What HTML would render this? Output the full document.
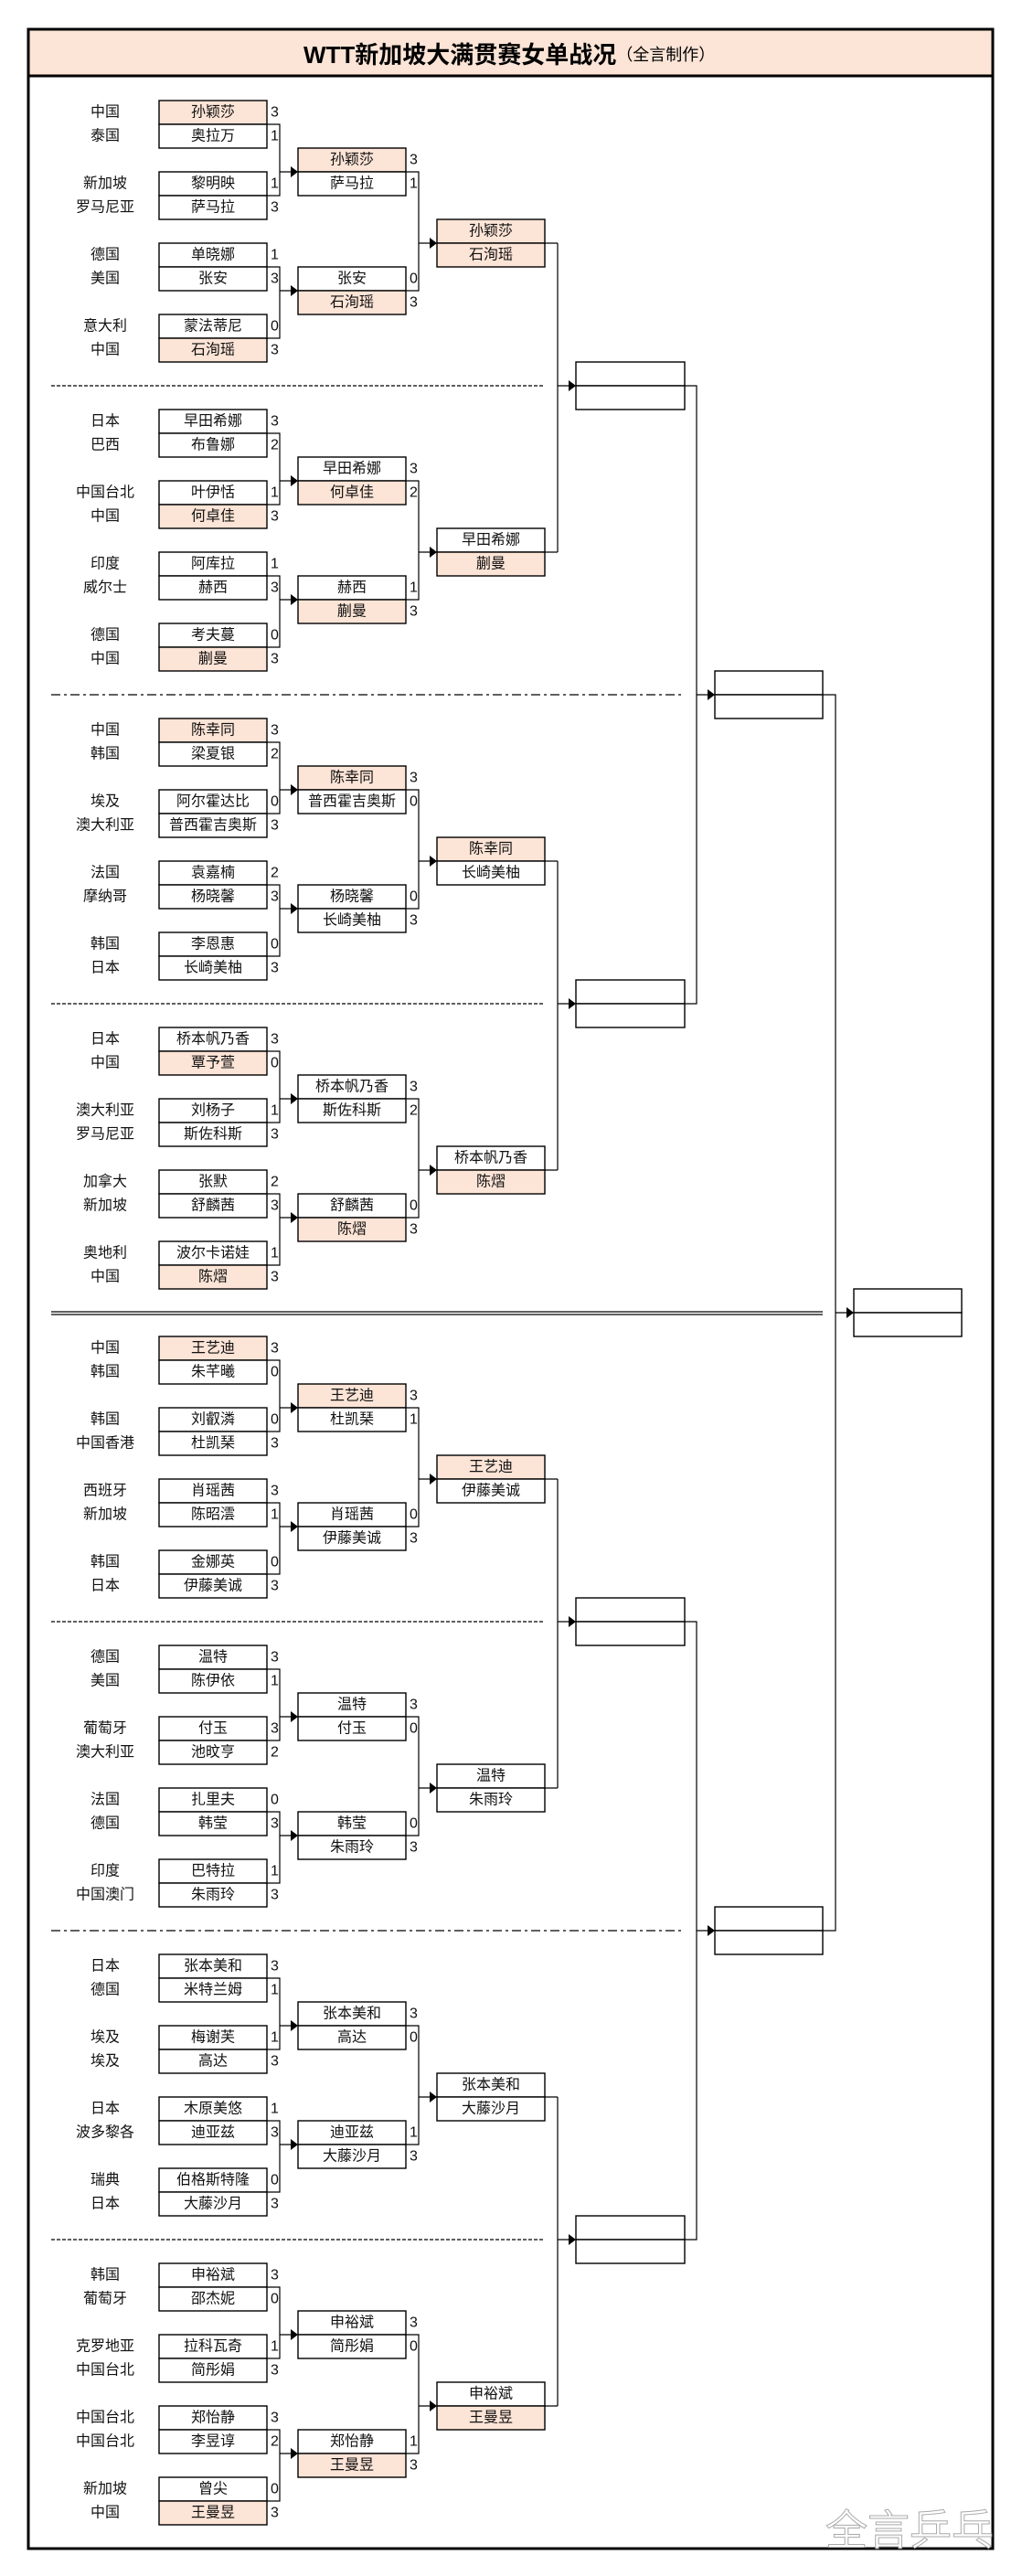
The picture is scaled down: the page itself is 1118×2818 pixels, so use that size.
<!DOCTYPE html>
<html><head><meta charset="utf-8">
<style>
html,body{margin:0;padding:0;background:#fff;}
svg{display:block;}
text{font-family:"Liberation Sans","Noto Sans CJK SC",sans-serif;}
.c{font-size:16px;fill:#111;text-anchor:middle;dominant-baseline:central;}
.n{font-size:16px;fill:#111;text-anchor:middle;dominant-baseline:central;}
.s{font-size:16px;fill:#111;dominant-baseline:central;}
.b{fill:#fff;stroke:#000;stroke-width:1.4;}
.h{fill:#fce4d6;stroke:#000;stroke-width:1.4;}
.l{stroke:#000;stroke-width:1.2;fill:none;}
</style></head><body>
<svg width="1118" height="2818" viewBox="0 0 1118 2818" xmlns="http://www.w3.org/2000/svg">
<defs>
<g id="conn">
<path class="l" d="M292 26H306V104H292M306 78H320M292 182H306V260H292M306 208H320M444 78H458V208H444M458 156H472M596 156H610"/>
<polygon points="318,72 326,78 318,84"/>
<polygon points="318,202 326,208 318,214"/>
<polygon points="470,150 478,156 470,162"/>
</g>
</defs>
<rect x="31" y="32" width="1055" height="51" fill="#fce4d6"/>
<rect x="31" y="32" width="1055" height="2756" fill="none" stroke="#000" stroke-width="3"/>
<line x1="31" y1="83" x2="1086" y2="83" stroke="#000" stroke-width="3"/>
<text x="332" y="60" style="font-size:26px;font-weight:bold;dominant-baseline:central;fill:#000">WTT新加坡大满贯赛女单战况<tspan style="font-size:18px;font-weight:normal">（全言制作）</tspan></text>

<g stroke="#000" stroke-width="1.2" stroke-dasharray="4,2">
<line x1="56" y1="422" x2="596" y2="422"/>
<line x1="56" y1="1098" x2="596" y2="1098"/>
<line x1="56" y1="1774" x2="596" y2="1774"/>
<line x1="56" y1="2450" x2="596" y2="2450"/>
</g>
<g stroke="#000" stroke-width="1.2" stroke-dasharray="10,4,3,4">
<line x1="56" y1="760" x2="749" y2="760"/>
<line x1="56" y1="2112" x2="749" y2="2112"/>
</g>
<line x1="56" y1="1435" x2="900" y2="1435" stroke="#000" stroke-width="1.3"/>
<line x1="56" y1="1438" x2="900" y2="1438" stroke="#000" stroke-width="1.3"/>

<path class="l" d="M610 266V604M610 422H624M610 942V1280M610 1098H624M610 1618V1956M610 1774H624M610 2294V2632M610 2450H624"/>
<polygon points="622,416 630,422 622,428"/><polygon points="622,1092 630,1098 622,1104"/>
<polygon points="622,1768 630,1774 622,1780"/><polygon points="622,2444 630,2450 622,2456"/>
<rect class="b" x="630" y="396" width="119" height="26"/><rect class="b" x="630" y="422" width="119" height="26"/>
<rect class="b" x="630" y="1072" width="119" height="26"/><rect class="b" x="630" y="1098" width="119" height="26"/>
<rect class="b" x="630" y="1748" width="119" height="26"/><rect class="b" x="630" y="1774" width="119" height="26"/>
<rect class="b" x="630" y="2424" width="119" height="26"/><rect class="b" x="630" y="2450" width="119" height="26"/>
<path class="l" d="M749 422H762V1098H749M762 760H776M749 1774H762V2450H749M762 2112H776"/>
<polygon points="774,754 782,760 774,766"/><polygon points="774,2106 782,2112 774,2118"/>
<rect class="b" x="782" y="734" width="118" height="26"/><rect class="b" x="782" y="760" width="118" height="26"/>
<rect class="b" x="782" y="2086" width="118" height="26"/><rect class="b" x="782" y="2112" width="118" height="26"/>
<path class="l" d="M900 760H914V2112H900M914 1436H928"/>
<polygon points="926,1430 934,1436 926,1442"/>
<rect class="b" x="934" y="1410" width="118" height="26"/><rect class="b" x="934" y="1436" width="118" height="26"/>

<g transform="translate(0,110)">
<use href="#conn"/>
<rect class="h" x="174" y="0" width="118" height="26"/><rect class="b" x="174" y="26" width="118" height="26"/>
<rect class="b" x="174" y="78" width="118" height="26"/><rect class="b" x="174" y="104" width="118" height="26"/>
<rect class="b" x="174" y="156" width="118" height="26"/><rect class="b" x="174" y="182" width="118" height="26"/>
<rect class="b" x="174" y="234" width="118" height="26"/><rect class="h" x="174" y="260" width="118" height="26"/>
<rect class="h" x="326" y="52" width="118" height="26"/><rect class="b" x="326" y="78" width="118" height="26"/>
<rect class="b" x="326" y="182" width="118" height="26"/><rect class="h" x="326" y="208" width="118" height="26"/>
<rect class="h" x="478" y="130" width="118" height="26"/><rect class="h" x="478" y="156" width="118" height="26"/>
<text class="c" x="115" y="13">中国</text><text class="c" x="115" y="39">泰国</text>
<text class="c" x="115" y="91">新加坡</text><text class="c" x="115" y="117">罗马尼亚</text>
<text class="c" x="115" y="169">德国</text><text class="c" x="115" y="195">美国</text>
<text class="c" x="115" y="247">意大利</text><text class="c" x="115" y="273">中国</text>
<text class="n" x="233" y="13">孙颖莎</text><text class="n" x="233" y="39">奥拉万</text>
<text class="n" x="233" y="91">黎明映</text><text class="n" x="233" y="117">萨马拉</text>
<text class="n" x="233" y="169">单晓娜</text><text class="n" x="233" y="195">张安</text>
<text class="n" x="233" y="247">蒙法蒂尼</text><text class="n" x="233" y="273">石洵瑶</text>
<text class="s" x="296" y="13">3</text><text class="s" x="296" y="39">1</text>
<text class="s" x="296" y="91">1</text><text class="s" x="296" y="117">3</text>
<text class="s" x="296" y="169">1</text><text class="s" x="296" y="195">3</text>
<text class="s" x="296" y="247">0</text><text class="s" x="296" y="273">3</text>
<text class="n" x="385" y="65">孙颖莎</text><text class="n" x="385" y="91">萨马拉</text>
<text class="n" x="385" y="195">张安</text><text class="n" x="385" y="221">石洵瑶</text>
<text class="s" x="448" y="65">3</text><text class="s" x="448" y="91">1</text>
<text class="s" x="448" y="195">0</text><text class="s" x="448" y="221">3</text>
<text class="n" x="537" y="143">孙颖莎</text><text class="n" x="537" y="169">石洵瑶</text>
</g>

<g transform="translate(0,448)">
<use href="#conn"/>
<rect class="b" x="174" y="0" width="118" height="26"/><rect class="b" x="174" y="26" width="118" height="26"/>
<rect class="b" x="174" y="78" width="118" height="26"/><rect class="h" x="174" y="104" width="118" height="26"/>
<rect class="b" x="174" y="156" width="118" height="26"/><rect class="b" x="174" y="182" width="118" height="26"/>
<rect class="b" x="174" y="234" width="118" height="26"/><rect class="h" x="174" y="260" width="118" height="26"/>
<rect class="b" x="326" y="52" width="118" height="26"/><rect class="h" x="326" y="78" width="118" height="26"/>
<rect class="b" x="326" y="182" width="118" height="26"/><rect class="h" x="326" y="208" width="118" height="26"/>
<rect class="b" x="478" y="130" width="118" height="26"/><rect class="h" x="478" y="156" width="118" height="26"/>
<text class="c" x="115" y="13">日本</text><text class="c" x="115" y="39">巴西</text>
<text class="c" x="115" y="91">中国台北</text><text class="c" x="115" y="117">中国</text>
<text class="c" x="115" y="169">印度</text><text class="c" x="115" y="195">威尔士</text>
<text class="c" x="115" y="247">德国</text><text class="c" x="115" y="273">中国</text>
<text class="n" x="233" y="13">早田希娜</text><text class="n" x="233" y="39">布鲁娜</text>
<text class="n" x="233" y="91">叶伊恬</text><text class="n" x="233" y="117">何卓佳</text>
<text class="n" x="233" y="169">阿库拉</text><text class="n" x="233" y="195">赫西</text>
<text class="n" x="233" y="247">考夫蔓</text><text class="n" x="233" y="273">蒯曼</text>
<text class="s" x="296" y="13">3</text><text class="s" x="296" y="39">2</text>
<text class="s" x="296" y="91">1</text><text class="s" x="296" y="117">3</text>
<text class="s" x="296" y="169">1</text><text class="s" x="296" y="195">3</text>
<text class="s" x="296" y="247">0</text><text class="s" x="296" y="273">3</text>
<text class="n" x="385" y="65">早田希娜</text><text class="n" x="385" y="91">何卓佳</text>
<text class="n" x="385" y="195">赫西</text><text class="n" x="385" y="221">蒯曼</text>
<text class="s" x="448" y="65">3</text><text class="s" x="448" y="91">2</text>
<text class="s" x="448" y="195">1</text><text class="s" x="448" y="221">3</text>
<text class="n" x="537" y="143">早田希娜</text><text class="n" x="537" y="169">蒯曼</text>
</g>

<g transform="translate(0,786)">
<use href="#conn"/>
<rect class="h" x="174" y="0" width="118" height="26"/><rect class="b" x="174" y="26" width="118" height="26"/>
<rect class="b" x="174" y="78" width="118" height="26"/><rect class="b" x="174" y="104" width="118" height="26"/>
<rect class="b" x="174" y="156" width="118" height="26"/><rect class="b" x="174" y="182" width="118" height="26"/>
<rect class="b" x="174" y="234" width="118" height="26"/><rect class="b" x="174" y="260" width="118" height="26"/>
<rect class="h" x="326" y="52" width="118" height="26"/><rect class="b" x="326" y="78" width="118" height="26"/>
<rect class="b" x="326" y="182" width="118" height="26"/><rect class="b" x="326" y="208" width="118" height="26"/>
<rect class="h" x="478" y="130" width="118" height="26"/><rect class="b" x="478" y="156" width="118" height="26"/>
<text class="c" x="115" y="13">中国</text><text class="c" x="115" y="39">韩国</text>
<text class="c" x="115" y="91">埃及</text><text class="c" x="115" y="117">澳大利亚</text>
<text class="c" x="115" y="169">法国</text><text class="c" x="115" y="195">摩纳哥</text>
<text class="c" x="115" y="247">韩国</text><text class="c" x="115" y="273">日本</text>
<text class="n" x="233" y="13">陈幸同</text><text class="n" x="233" y="39">梁夏银</text>
<text class="n" x="233" y="91">阿尔霍达比</text><text class="n" x="233" y="117">普西霍吉奥斯</text>
<text class="n" x="233" y="169">袁嘉楠</text><text class="n" x="233" y="195">杨晓馨</text>
<text class="n" x="233" y="247">李恩惠</text><text class="n" x="233" y="273">长崎美柚</text>
<text class="s" x="296" y="13">3</text><text class="s" x="296" y="39">2</text>
<text class="s" x="296" y="91">0</text><text class="s" x="296" y="117">3</text>
<text class="s" x="296" y="169">2</text><text class="s" x="296" y="195">3</text>
<text class="s" x="296" y="247">0</text><text class="s" x="296" y="273">3</text>
<text class="n" x="385" y="65">陈幸同</text><text class="n" x="385" y="91">普西霍吉奥斯</text>
<text class="n" x="385" y="195">杨晓馨</text><text class="n" x="385" y="221">长崎美柚</text>
<text class="s" x="448" y="65">3</text><text class="s" x="448" y="91">0</text>
<text class="s" x="448" y="195">0</text><text class="s" x="448" y="221">3</text>
<text class="n" x="537" y="143">陈幸同</text><text class="n" x="537" y="169">长崎美柚</text>
</g>

<g transform="translate(0,1124)">
<use href="#conn"/>
<rect class="b" x="174" y="0" width="118" height="26"/><rect class="h" x="174" y="26" width="118" height="26"/>
<rect class="b" x="174" y="78" width="118" height="26"/><rect class="b" x="174" y="104" width="118" height="26"/>
<rect class="b" x="174" y="156" width="118" height="26"/><rect class="b" x="174" y="182" width="118" height="26"/>
<rect class="b" x="174" y="234" width="118" height="26"/><rect class="h" x="174" y="260" width="118" height="26"/>
<rect class="b" x="326" y="52" width="118" height="26"/><rect class="b" x="326" y="78" width="118" height="26"/>
<rect class="b" x="326" y="182" width="118" height="26"/><rect class="h" x="326" y="208" width="118" height="26"/>
<rect class="b" x="478" y="130" width="118" height="26"/><rect class="h" x="478" y="156" width="118" height="26"/>
<text class="c" x="115" y="13">日本</text><text class="c" x="115" y="39">中国</text>
<text class="c" x="115" y="91">澳大利亚</text><text class="c" x="115" y="117">罗马尼亚</text>
<text class="c" x="115" y="169">加拿大</text><text class="c" x="115" y="195">新加坡</text>
<text class="c" x="115" y="247">奥地利</text><text class="c" x="115" y="273">中国</text>
<text class="n" x="233" y="13">桥本帆乃香</text><text class="n" x="233" y="39">覃予萱</text>
<text class="n" x="233" y="91">刘杨子</text><text class="n" x="233" y="117">斯佐科斯</text>
<text class="n" x="233" y="169">张默</text><text class="n" x="233" y="195">舒麟茜</text>
<text class="n" x="233" y="247">波尔卡诺娃</text><text class="n" x="233" y="273">陈熠</text>
<text class="s" x="296" y="13">3</text><text class="s" x="296" y="39">0</text>
<text class="s" x="296" y="91">1</text><text class="s" x="296" y="117">3</text>
<text class="s" x="296" y="169">2</text><text class="s" x="296" y="195">3</text>
<text class="s" x="296" y="247">1</text><text class="s" x="296" y="273">3</text>
<text class="n" x="385" y="65">桥本帆乃香</text><text class="n" x="385" y="91">斯佐科斯</text>
<text class="n" x="385" y="195">舒麟茜</text><text class="n" x="385" y="221">陈熠</text>
<text class="s" x="448" y="65">3</text><text class="s" x="448" y="91">2</text>
<text class="s" x="448" y="195">0</text><text class="s" x="448" y="221">3</text>
<text class="n" x="537" y="143">桥本帆乃香</text><text class="n" x="537" y="169">陈熠</text>
</g>

<g transform="translate(0,1462)">
<use href="#conn"/>
<rect class="h" x="174" y="0" width="118" height="26"/><rect class="b" x="174" y="26" width="118" height="26"/>
<rect class="b" x="174" y="78" width="118" height="26"/><rect class="b" x="174" y="104" width="118" height="26"/>
<rect class="b" x="174" y="156" width="118" height="26"/><rect class="b" x="174" y="182" width="118" height="26"/>
<rect class="b" x="174" y="234" width="118" height="26"/><rect class="b" x="174" y="260" width="118" height="26"/>
<rect class="h" x="326" y="52" width="118" height="26"/><rect class="b" x="326" y="78" width="118" height="26"/>
<rect class="b" x="326" y="182" width="118" height="26"/><rect class="b" x="326" y="208" width="118" height="26"/>
<rect class="h" x="478" y="130" width="118" height="26"/><rect class="b" x="478" y="156" width="118" height="26"/>
<text class="c" x="115" y="13">中国</text><text class="c" x="115" y="39">韩国</text>
<text class="c" x="115" y="91">韩国</text><text class="c" x="115" y="117">中国香港</text>
<text class="c" x="115" y="169">西班牙</text><text class="c" x="115" y="195">新加坡</text>
<text class="c" x="115" y="247">韩国</text><text class="c" x="115" y="273">日本</text>
<text class="n" x="233" y="13">王艺迪</text><text class="n" x="233" y="39">朱芊曦</text>
<text class="n" x="233" y="91">刘叡潾</text><text class="n" x="233" y="117">杜凯琹</text>
<text class="n" x="233" y="169">肖瑶茜</text><text class="n" x="233" y="195">陈昭澐</text>
<text class="n" x="233" y="247">金娜英</text><text class="n" x="233" y="273">伊藤美诚</text>
<text class="s" x="296" y="13">3</text><text class="s" x="296" y="39">0</text>
<text class="s" x="296" y="91">0</text><text class="s" x="296" y="117">3</text>
<text class="s" x="296" y="169">3</text><text class="s" x="296" y="195">1</text>
<text class="s" x="296" y="247">0</text><text class="s" x="296" y="273">3</text>
<text class="n" x="385" y="65">王艺迪</text><text class="n" x="385" y="91">杜凯琹</text>
<text class="n" x="385" y="195">肖瑶茜</text><text class="n" x="385" y="221">伊藤美诚</text>
<text class="s" x="448" y="65">3</text><text class="s" x="448" y="91">1</text>
<text class="s" x="448" y="195">0</text><text class="s" x="448" y="221">3</text>
<text class="n" x="537" y="143">王艺迪</text><text class="n" x="537" y="169">伊藤美诚</text>
</g>

<g transform="translate(0,1800)">
<use href="#conn"/>
<rect class="b" x="174" y="0" width="118" height="26"/><rect class="b" x="174" y="26" width="118" height="26"/>
<rect class="b" x="174" y="78" width="118" height="26"/><rect class="b" x="174" y="104" width="118" height="26"/>
<rect class="b" x="174" y="156" width="118" height="26"/><rect class="b" x="174" y="182" width="118" height="26"/>
<rect class="b" x="174" y="234" width="118" height="26"/><rect class="b" x="174" y="260" width="118" height="26"/>
<rect class="b" x="326" y="52" width="118" height="26"/><rect class="b" x="326" y="78" width="118" height="26"/>
<rect class="b" x="326" y="182" width="118" height="26"/><rect class="b" x="326" y="208" width="118" height="26"/>
<rect class="b" x="478" y="130" width="118" height="26"/><rect class="b" x="478" y="156" width="118" height="26"/>
<text class="c" x="115" y="13">德国</text><text class="c" x="115" y="39">美国</text>
<text class="c" x="115" y="91">葡萄牙</text><text class="c" x="115" y="117">澳大利亚</text>
<text class="c" x="115" y="169">法国</text><text class="c" x="115" y="195">德国</text>
<text class="c" x="115" y="247">印度</text><text class="c" x="115" y="273">中国澳门</text>
<text class="n" x="233" y="13">温特</text><text class="n" x="233" y="39">陈伊依</text>
<text class="n" x="233" y="91">付玉</text><text class="n" x="233" y="117">池旼亨</text>
<text class="n" x="233" y="169">扎里夫</text><text class="n" x="233" y="195">韩莹</text>
<text class="n" x="233" y="247">巴特拉</text><text class="n" x="233" y="273">朱雨玲</text>
<text class="s" x="296" y="13">3</text><text class="s" x="296" y="39">1</text>
<text class="s" x="296" y="91">3</text><text class="s" x="296" y="117">2</text>
<text class="s" x="296" y="169">0</text><text class="s" x="296" y="195">3</text>
<text class="s" x="296" y="247">1</text><text class="s" x="296" y="273">3</text>
<text class="n" x="385" y="65">温特</text><text class="n" x="385" y="91">付玉</text>
<text class="n" x="385" y="195">韩莹</text><text class="n" x="385" y="221">朱雨玲</text>
<text class="s" x="448" y="65">3</text><text class="s" x="448" y="91">0</text>
<text class="s" x="448" y="195">0</text><text class="s" x="448" y="221">3</text>
<text class="n" x="537" y="143">温特</text><text class="n" x="537" y="169">朱雨玲</text>
</g>

<g transform="translate(0,2138)">
<use href="#conn"/>
<rect class="b" x="174" y="0" width="118" height="26"/><rect class="b" x="174" y="26" width="118" height="26"/>
<rect class="b" x="174" y="78" width="118" height="26"/><rect class="b" x="174" y="104" width="118" height="26"/>
<rect class="b" x="174" y="156" width="118" height="26"/><rect class="b" x="174" y="182" width="118" height="26"/>
<rect class="b" x="174" y="234" width="118" height="26"/><rect class="b" x="174" y="260" width="118" height="26"/>
<rect class="b" x="326" y="52" width="118" height="26"/><rect class="b" x="326" y="78" width="118" height="26"/>
<rect class="b" x="326" y="182" width="118" height="26"/><rect class="b" x="326" y="208" width="118" height="26"/>
<rect class="b" x="478" y="130" width="118" height="26"/><rect class="b" x="478" y="156" width="118" height="26"/>
<text class="c" x="115" y="13">日本</text><text class="c" x="115" y="39">德国</text>
<text class="c" x="115" y="91">埃及</text><text class="c" x="115" y="117">埃及</text>
<text class="c" x="115" y="169">日本</text><text class="c" x="115" y="195">波多黎各</text>
<text class="c" x="115" y="247">瑞典</text><text class="c" x="115" y="273">日本</text>
<text class="n" x="233" y="13">张本美和</text><text class="n" x="233" y="39">米特兰姆</text>
<text class="n" x="233" y="91">梅谢芙</text><text class="n" x="233" y="117">高达</text>
<text class="n" x="233" y="169">木原美悠</text><text class="n" x="233" y="195">迪亚兹</text>
<text class="n" x="233" y="247">伯格斯特隆</text><text class="n" x="233" y="273">大藤沙月</text>
<text class="s" x="296" y="13">3</text><text class="s" x="296" y="39">1</text>
<text class="s" x="296" y="91">1</text><text class="s" x="296" y="117">3</text>
<text class="s" x="296" y="169">1</text><text class="s" x="296" y="195">3</text>
<text class="s" x="296" y="247">0</text><text class="s" x="296" y="273">3</text>
<text class="n" x="385" y="65">张本美和</text><text class="n" x="385" y="91">高达</text>
<text class="n" x="385" y="195">迪亚兹</text><text class="n" x="385" y="221">大藤沙月</text>
<text class="s" x="448" y="65">3</text><text class="s" x="448" y="91">0</text>
<text class="s" x="448" y="195">1</text><text class="s" x="448" y="221">3</text>
<text class="n" x="537" y="143">张本美和</text><text class="n" x="537" y="169">大藤沙月</text>
</g>

<g transform="translate(0,2476)">
<use href="#conn"/>
<rect class="b" x="174" y="0" width="118" height="26"/><rect class="b" x="174" y="26" width="118" height="26"/>
<rect class="b" x="174" y="78" width="118" height="26"/><rect class="b" x="174" y="104" width="118" height="26"/>
<rect class="b" x="174" y="156" width="118" height="26"/><rect class="b" x="174" y="182" width="118" height="26"/>
<rect class="b" x="174" y="234" width="118" height="26"/><rect class="h" x="174" y="260" width="118" height="26"/>
<rect class="b" x="326" y="52" width="118" height="26"/><rect class="b" x="326" y="78" width="118" height="26"/>
<rect class="b" x="326" y="182" width="118" height="26"/><rect class="h" x="326" y="208" width="118" height="26"/>
<rect class="b" x="478" y="130" width="118" height="26"/><rect class="h" x="478" y="156" width="118" height="26"/>
<text class="c" x="115" y="13">韩国</text><text class="c" x="115" y="39">葡萄牙</text>
<text class="c" x="115" y="91">克罗地亚</text><text class="c" x="115" y="117">中国台北</text>
<text class="c" x="115" y="169">中国台北</text><text class="c" x="115" y="195">中国台北</text>
<text class="c" x="115" y="247">新加坡</text><text class="c" x="115" y="273">中国</text>
<text class="n" x="233" y="13">申裕斌</text><text class="n" x="233" y="39">邵杰妮</text>
<text class="n" x="233" y="91">拉科瓦奇</text><text class="n" x="233" y="117">简彤娟</text>
<text class="n" x="233" y="169">郑怡静</text><text class="n" x="233" y="195">李昱谆</text>
<text class="n" x="233" y="247">曾尖</text><text class="n" x="233" y="273">王曼昱</text>
<text class="s" x="296" y="13">3</text><text class="s" x="296" y="39">0</text>
<text class="s" x="296" y="91">1</text><text class="s" x="296" y="117">3</text>
<text class="s" x="296" y="169">3</text><text class="s" x="296" y="195">2</text>
<text class="s" x="296" y="247">0</text><text class="s" x="296" y="273">3</text>
<text class="n" x="385" y="65">申裕斌</text><text class="n" x="385" y="91">简彤娟</text>
<text class="n" x="385" y="195">郑怡静</text><text class="n" x="385" y="221">王曼昱</text>
<text class="s" x="448" y="65">3</text><text class="s" x="448" y="91">0</text>
<text class="s" x="448" y="195">1</text><text class="s" x="448" y="221">3</text>
<text class="n" x="537" y="143">申裕斌</text><text class="n" x="537" y="169">王曼昱</text>
</g>

<text x="903" y="2768" style="font-size:46px;fill:#fff;stroke:#aaa;stroke-width:1;dominant-baseline:central;">全言乒乓</text>
</svg>
</body></html>
